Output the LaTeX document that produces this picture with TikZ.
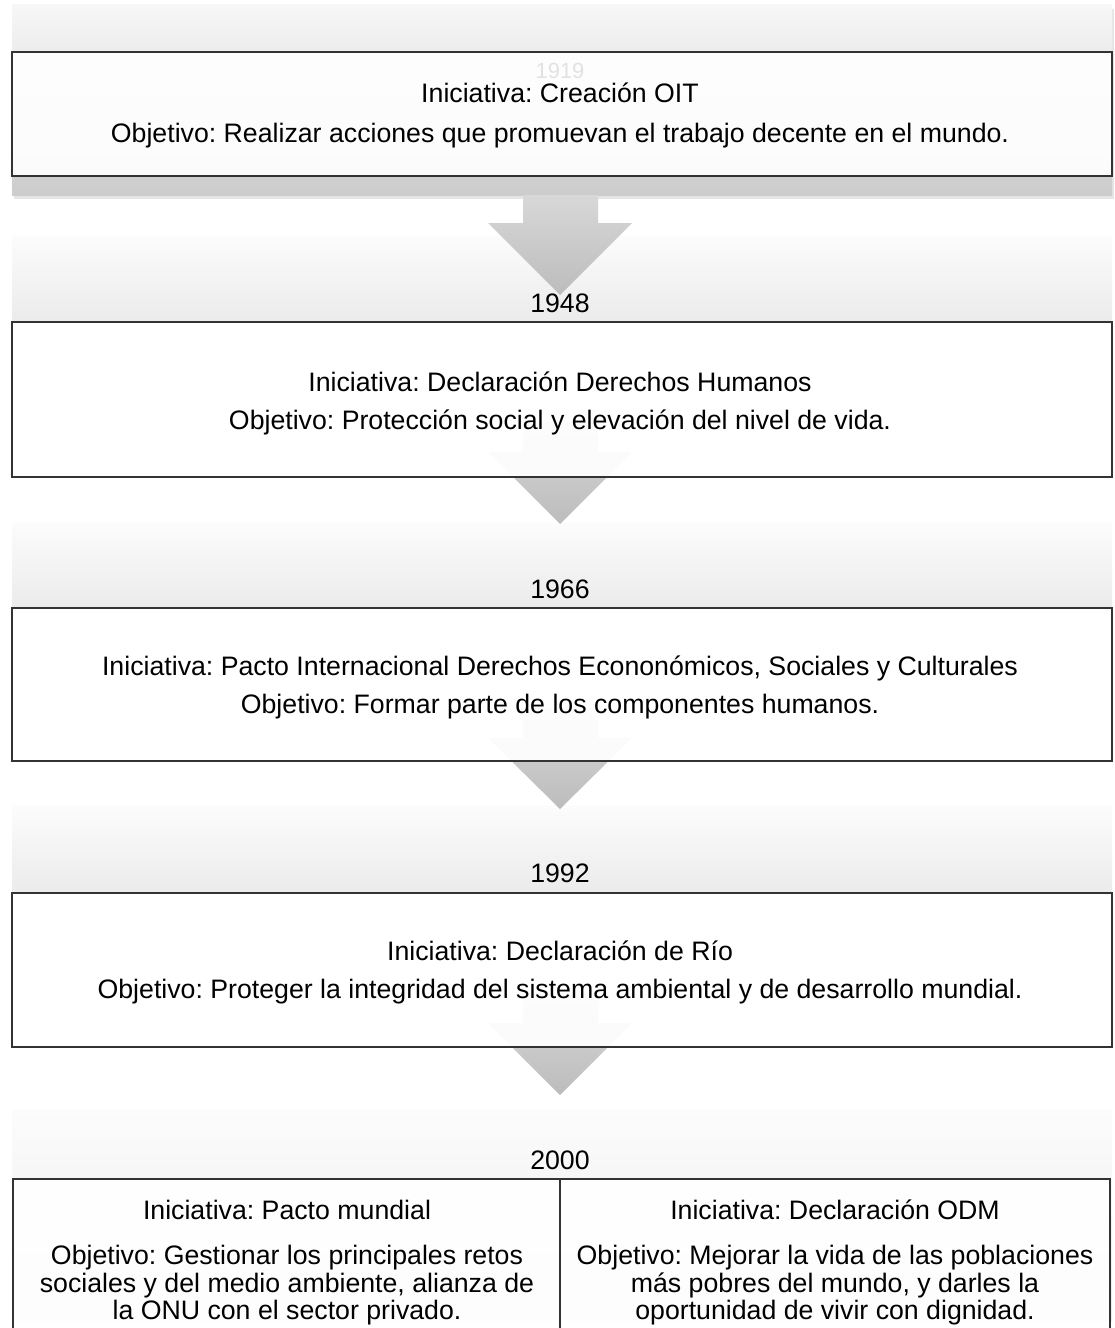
\documentclass[tikz,border=0pt]{standalone}
\usepackage{fontspec}
\setmainfont{Liberation Sans}
\usetikzlibrary{positioning}
\frenchspacing

\definecolor{framegray}{HTML}{333333}
\definecolor{bandtop}{HTML}{FCFCFC}
\definecolor{bandbot}{HTML}{EBEBEB}
\definecolor{firsttop}{HTML}{F7F7F7}
\definecolor{firstbot}{HTML}{CCCCCC}
\definecolor{arrowtop}{HTML}{D8D8D8}
\definecolor{arrowbot}{HTML}{BCBCBC}
\definecolor{ghostgray}{HTML}{E2E2E2}

\begin{document}
\begin{tikzpicture}[x=0.02cm, y=-0.02cm,
  band/.style={top color=bandtop, bottom color=bandbot},
  bandshadow/.style={fill=black, opacity=0.10},
  stagebox/.style={draw=framegray, line width=1.1pt, fill=white, fill opacity=0.93},
  downarrow/.style={top color=arrowtop, bottom color=arrowbot},
  txt/.style={anchor=base, inner sep=0pt, font=\fontsize{15.2}{18}\selectfont}]

% Frame
\clip (0,0) rectangle (1115,1328);

% Header bands
\fill[bandshadow] (14,9) rectangle (1114,199);
\path[top color=firsttop, bottom color=firstbot] (12,5) rectangle (1112,195);
\path[band] (12,235) rectangle (1112,322);
\path[band] (12,522) rectangle (1112,608);
\path[band] (12,805) rectangle (1112,893);
\path[band] (12,1110) rectangle (1112,1320);

% Down arrows
\path[downarrow] (523,195) -- (598,195) -- (598,223) -- (632,223) -- (560,295) -- (488,223) -- (523,223) -- cycle;
\path[downarrow] (523,422) -- (598,422) -- (598,452) -- (632,452) -- (560,524) -- (488,452) -- (523,452) -- cycle;
\path[downarrow] (523,708) -- (598,708) -- (598,738) -- (632,738) -- (560,809) -- (488,738) -- (523,738) -- cycle;
\path[downarrow] (523,993) -- (598,993) -- (598,1023) -- (632,1023) -- (560,1095) -- (488,1023) -- (523,1023) -- cycle;

% Boxes
\draw[stagebox] (12,52) rectangle (1112,176);
\draw[stagebox] (12,322) rectangle (1112,477);
\draw[stagebox] (12,608) rectangle (1112,761);
\draw[stagebox] (12,893) rectangle (1112,1047);
\draw[stagebox] (13,1179) rectangle (560,1345);
\draw[stagebox] (560,1179) rectangle (1110,1345);

% 1919
\node[txt, text=ghostgray, font=\fontsize{12.5}{15}\selectfont] (year1) at (560,79) {1919};
\node[txt] (ini1) at (560,103) {Iniciativa: Creación OIT};
\node[txt] (obj1) at (560,142) {Objetivo: Realizar acciones que promuevan el trabajo decente en el mundo.};

% 1948
\node[txt] (year2) at (560,312) {1948};
\node[txt] (ini2) at (560,391) {Iniciativa: Declaración Derechos Humanos};
\node[txt] (obj2) at (560,429) {Objetivo: Protección social y elevación del nivel de vida.};

% 1966
\node[txt] (year3) at (560,598) {1966};
\node[txt] (ini3) at (560,675) {Iniciativa: Pacto Internacional Derechos Econonómicos, Sociales y Culturales};
\node[txt] (obj3) at (560,713) {Objetivo: Formar parte de los componentes humanos.};

% 1992
\node[txt] (year4) at (560,882) {1992};
\node[txt] (ini4) at (560,960) {Iniciativa: Declaración de Río};
\node[txt] (obj4) at (560,998) {Objetivo: Proteger la integridad del sistema ambiental y de desarrollo mundial.};

% 2000
\node[txt] (year5) at (560,1169) {2000};
\node[txt] (ini5a) at (287,1219) {Iniciativa: Pacto mundial};
\node[txt] (obj5a) at (287,1264) {Objetivo: Gestionar los principales retos};
\node[txt] (obj5b) at (287,1292) {sociales y del medio ambiente, alianza de};
\node[txt] (obj5c) at (287,1319) {la ONU con el sector privado.};
\node[txt] (ini5b) at (835,1219) {Iniciativa: Declaración ODM};
\node[txt] (obj5d) at (835,1264) {Objetivo: Mejorar la vida de las poblaciones};
\node[txt] (obj5e) at (835,1292) {más pobres del mundo, y darles la};
\node[txt] (obj5f) at (835,1319) {oportunidad de vivir con dignidad.};

\end{tikzpicture}
\end{document}
